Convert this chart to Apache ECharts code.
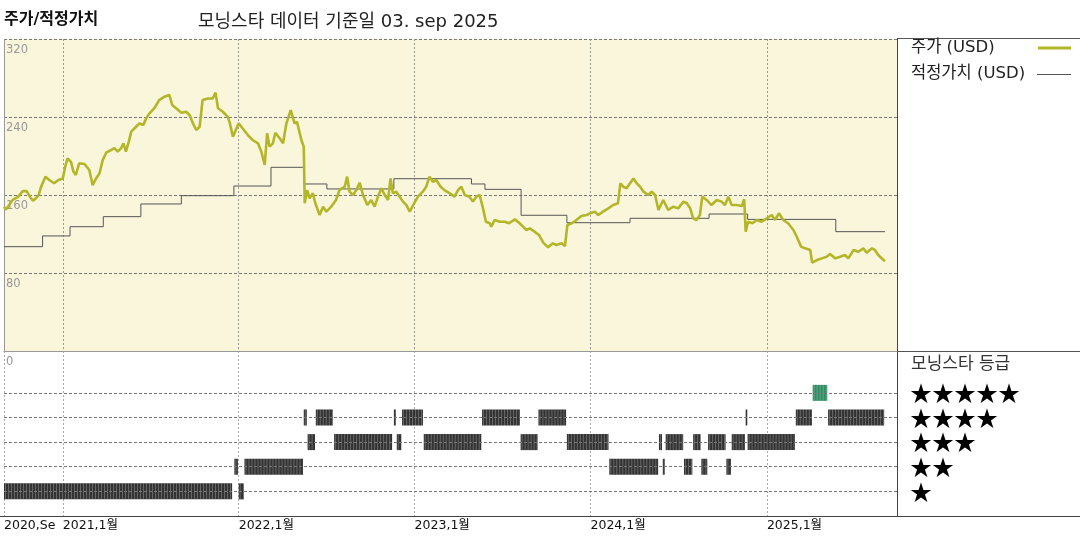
<!DOCTYPE html>
<html><head><meta charset="utf-8">
<script src="https://cdn.jsdelivr.net/npm/echarts@6/dist/echarts.min.js"></script>
<style>html,body{margin:0;padding:0;background:#fff}#c{width:1080px;height:540px}</style>
</head><body><div id="c"></div>
<script>
const priceDates = ['2020-09-01','2020-09-05','2020-09-19','2020-09-30','2020-10-10','2020-10-18','2020-10-25','2020-10-31','2020-11-06','2020-11-12','2020-11-17','2020-11-26','2020-12-04','2020-12-14','2020-12-23',
'2021-01-01','2021-01-06','2021-01-11','2021-01-18','2021-01-23','2021-01-28','2021-02-04','2021-02-15','2021-02-19','2021-02-25','2021-03-04','2021-03-11','2021-03-18','2021-03-25','2021-04-01','2021-04-11','2021-04-18','2021-04-25','2021-05-02','2021-05-07','2021-05-12','2021-05-18','2021-05-23','2021-06-02','2021-06-09','2021-06-17','2021-06-23','2021-06-30','2021-07-10','2021-07-20','2021-07-31','2021-08-10','2021-08-16','2021-08-24','2021-09-04','2021-09-14','2021-09-21','2021-09-28','2021-10-05','2021-10-12','2021-10-18','2021-10-29','2021-11-08','2021-11-14','2021-11-19','2021-11-29','2021-12-09','2021-12-13','2021-12-20',
'2022-01-01','2022-01-09','2022-01-20','2022-01-30','2022-02-10','2022-02-17','2022-02-24','2022-03-01','2022-03-06','2022-03-13','2022-03-18','2022-03-27','2022-04-03','2022-04-10','2022-04-19','2022-04-27','2022-05-02','2022-05-11','2022-05-16','2022-05-18','2022-05-23','2022-05-28','2022-06-04','2022-06-09','2022-06-18','2022-06-25','2022-07-02','2022-07-12','2022-07-22','2022-07-29','2022-08-09','2022-08-14','2022-08-19','2022-08-26','2022-09-02','2022-09-09','2022-09-16','2022-09-25','2022-10-03','2022-10-10','2022-10-17','2022-10-24','2022-10-31','2022-11-07','2022-11-12','2022-11-17','2022-11-24','2022-12-01','2022-12-08','2022-12-15','2022-12-22','2022-12-29',
'2023-01-08','2023-01-18','2023-01-25','2023-02-01','2023-02-08','2023-02-15','2023-02-24','2023-03-04','2023-03-15','2023-03-25','2023-04-01','2023-04-08','2023-04-15','2023-04-25','2023-05-02','2023-05-09','2023-05-16','2023-05-23','2023-05-29','2023-06-06','2023-06-09','2023-06-16','2023-06-27','2023-07-07','2023-07-16','2023-07-28','2023-08-07','2023-08-14','2023-08-21','2023-08-28','2023-09-07','2023-09-16','2023-09-25','2023-10-05','2023-10-15','2023-10-22','2023-11-02','2023-11-09','2023-11-14','2023-11-23','2023-12-03','2023-12-13','2023-12-24','2023-12-31',
'2024-01-10','2024-01-17','2024-01-27','2024-02-07','2024-02-17','2024-02-27','2024-03-03','2024-03-09','2024-03-16','2024-03-23','2024-03-30','2024-04-06','2024-04-13','2024-04-20','2024-04-30','2024-05-07','2024-05-14','2024-05-21','2024-05-31','2024-06-10','2024-06-21','2024-07-01','2024-07-12','2024-07-19','2024-07-26','2024-08-01','2024-08-08','2024-08-15','2024-08-20','2024-08-29','2024-09-08','2024-09-19','2024-09-29','2024-10-06','2024-10-13','2024-10-20','2024-10-30','2024-11-10','2024-11-15','2024-11-18','2024-11-23','2024-12-02','2024-12-11','2024-12-21',
'2025-01-01','2025-01-11','2025-01-18','2025-01-26','2025-02-04','2025-02-14','2025-02-25','2025-03-04','2025-03-13','2025-03-21','2025-04-01','2025-04-05','2025-04-15','2025-04-25','2025-05-05','2025-05-12','2025-05-23','2025-06-02','2025-06-12','2025-06-19','2025-06-30','2025-07-10','2025-07-20','2025-07-27','2025-08-07','2025-08-13','2025-08-20','2025-08-31','2025-09-03'];
const priceValues = [148,145,155,158,164,164,158,154,156.6,160,168.5,178.8,175.4,172,175.4,
177,189,197.6,194,184,180.5,192.5,191.8,190.8,185.6,170,177,182,196,203.4,206,208,204.4,208,213,204.4,214.7,225,230,233.5,231.8,238.6,243.8,249,257.4,260.8,262.6,252.3,249,244.4,245.4,242,233.5,226.7,230,257.4,259,259,265,249,245.4,240.3,235,219.8,
233.5,228.4,221.5,216.4,213,204.4,190.8,223.3,209.6,213,223.9,218.2,213,233.5,247,233.5,235,216.4,209.6,151.5,165,156.6,161.7,151.5,139.5,148,142.9,148,154.9,165,168.5,178.8,163.4,160,165,172.6,160,149.7,154.9,148,158.3,166.9,160,154.9,177,161.7,163.4,158.3,153.2,149.7,142.9,149.7,
158.3,163.4,168.5,178.8,173.6,175.4,168.5,165,161.7,158.3,165,168.5,160,158.3,153.2,158.3,160,146.3,132.6,131,127.5,134.4,132.6,132.6,131,135,131,127.5,124.1,125.8,122.4,119,111.1,106.3,110.4,108.7,110.4,107.7,129.2,131,134.4,138.5,139.5,141.2,
142.9,139.5,142.9,146.3,149.7,151.5,172,168.5,166.9,172,177,172,168.5,163.4,160,163.4,160,144.6,154.9,144.6,148,146.3,153.2,151.5,146.3,136.1,134.4,139.5,158.3,154.9,149.7,154.9,153.2,149.7,158.3,149.7,149.7,148.7,155.6,122.4,132.6,131,134.4,132.6,
136.1,139.5,134.4,141.2,134.4,131,124.1,117.2,107,105.3,103.6,90.6,93.3,95,96.7,99.5,95,96.7,98.5,95,103.6,101.8,105.3,100.8,105.3,103.6,98.5,93.3,92];

const fairDates = ['2020-09-01','2020-11-20','2021-01-16','2021-03-26','2021-06-12','2021-09-04','2021-12-22','2022-03-09','2022-05-16','2022-07-03','2022-11-19','2023-04-29','2023-05-27','2023-08-10','2023-11-13','2024-03-23','2024-09-03','2024-11-22','2025-05-24','2025-09-03'];
const fairValues = [107,118,127.5,137.8,150.8,159.3,169.2,188.4,171.3,166.2,176.7,171.3,165.8,139.2,131.6,136.1,140.5,135,122.4,122.4];

const ratingStart = ['2020-09-01','2021-12-23','2022-01-01','2022-01-13','2022-05-16','2022-05-24','2022-06-10','2022-07-18','2022-11-19','2022-11-25','2022-12-06','2023-01-20','2023-05-21','2023-08-09','2023-09-15','2023-11-13','2024-02-09','2024-05-22','2024-05-30','2024-06-05','2024-07-13','2024-08-01','2024-08-18','2024-09-01','2024-10-09','2024-10-20','2024-11-18','2024-11-22','2025-03-02','2025-04-06','2025-05-08'];
const ratingEnd   = ['2021-12-20','2022-01-01','2022-01-13','2022-05-16','2022-05-24','2022-06-10','2022-07-17','2022-11-17','2022-11-25','2022-12-06','2023-01-20','2023-05-21','2023-08-09','2023-09-15','2023-11-13','2024-02-09','2024-05-22','2024-05-30','2024-06-05','2024-07-13','2024-08-01','2024-08-18','2024-09-01','2024-10-09','2024-10-20','2024-11-18','2024-11-22','2025-03-02','2025-04-06','2025-05-08','2025-09-03'];
const ratingStars = [1,2,1,2,4,3,4,3,4,3,4,3,4,3,4,3,2,3,2,3,2,3,2,3,2,3,4,3,4,5,4];

const yTicks = [0, 80, 160, 240, 320];
const xTickDates = ['2020-09-01','2021-01-01','2022-01-01','2023-01-01','2024-01-01','2025-01-01'];
const ratingRows = [1, 2, 3, 4, 5];
const legendNames = ['주가 (USD)', '적정가치 (USD)'];

const FONT = '"DejaVu Sans", "Noto Sans CJK KR", sans-serif';
const PRICE_COLOR = '#b3b628', FAIR_COLOR = '#555555';
const t = s => { const p = s.split('-').map(Number); return new Date(p[0], p[1] - 1, p[2]).getTime(); };
const xMin = t('2020-09-01'), xMax = t('2025-09-28');
const xTicks = xTickDates.map(t);

const chart = echarts.init(document.getElementById('c'), null, {renderer: 'canvas'});

const xLabelFmt = v => {
  const d = new Date(v);
  if (d.getFullYear() === 2020) return '2020,Sep';
  return d.getFullYear() + ',1월';
};

chart.setOption({
  animation: false,
  textStyle: {fontFamily: FONT},
  title: [
    {text: '주가/적정가치', left: -1, top: 7, textStyle: {fontSize: 16, fontWeight: 'bold', color: '#111', fontFamily: FONT}},
    {text: '모닝스타 데이터 기준일 03. sep 2025', left: 193, top: 8, textStyle: {fontSize: 18, fontWeight: 'normal', color: '#222', fontFamily: FONT}},
    {text: '모닝스타 등급', left: 906, top: 351, textStyle: {fontSize: 17, fontWeight: 'normal', color: '#333', fontFamily: FONT}}
  ],
  grid: [
    {left: 4, top: 39, width: 893, height: 312, show: true, backgroundColor: '#faf6dc', borderWidth: 0},
    {left: 4, top: 351, width: 893, height: 165, show: false}
  ],
  xAxis: [
    {type: 'value', gridIndex: 0, min: xMin, max: xMax,
     axisLine: {show: true, lineStyle: {color: '#999', width: 1}},
     axisTick: {show: false, customValues: xTicks},
     axisLabel: {show: false, customValues: xTicks},
     splitLine: {show: true, lineStyle: {color: '#999', type: [2, 2]}}},
    {type: 'value', gridIndex: 1, min: xMin, max: xMax,
     axisLine: {show: true, lineStyle: {color: '#444', width: 1}},
     axisTick: {show: false, customValues: xTicks},
     axisLabel: {show: true, customValues: xTicks, formatter: xLabelFmt, align: 'left', margin: 3,
                 width: 59, overflow: 'truncate', ellipsis: '',
                 fontSize: 12.5, color: '#111', fontFamily: FONT, showMinLabel: true, showMaxLabel: true, hideOverlap: false},
     splitLine: {show: true, lineStyle: {color: '#aaa', type: [2, 2]}}}
  ],
  yAxis: [
    {type: 'value', gridIndex: 0, min: 0, max: 320, interval: 80,
     axisLine: {show: true, lineStyle: {color: '#999', type: [2, 2]}},
     axisTick: {show: false},
     axisLabel: {inside: true, verticalAlign: 'top', margin: 2, padding: [5, 0, 0, 0], fontSize: 11.5, color: '#999', fontFamily: FONT,
                 formatter: v => String(v)},
     splitLine: {show: true, lineStyle: {color: '#777', type: [3, 2]}}},
    {type: 'value', gridIndex: 1, position: 'right', min: 0, max: 6.7, interval: 1,
     axisLine: {show: false}, axisTick: {show: false}, splitLine: {show: false},
     axisLabel: {margin: 13, align: 'left', fontSize: 22, color: '#000', fontFamily: '"Noto Sans CJK KR", sans-serif',
                 formatter: v => (Number.isInteger(v) && v >= 1 && v <= 5) ? '★'.repeat(v) : ''}}
  ],
  graphic: [
    {type: 'line', silent: true, shape: {x1: 897, y1: 38.5, x2: 1080, y2: 38.5}, style: {stroke: '#555', lineWidth: 1}},
    {type: 'line', silent: true, shape: {x1: 897.5, y1: 38, x2: 897.5, y2: 516}, style: {stroke: '#444', lineWidth: 1}},
    {type: 'line', silent: true, shape: {x1: 897, y1: 351.5, x2: 1080, y2: 351.5}, style: {stroke: '#555', lineWidth: 1}},
    {type: 'line', silent: true, shape: {x1: 0, y1: 516.5, x2: 1080, y2: 516.5}, style: {stroke: '#444', lineWidth: 1}},
    {type: 'text', silent: true, style: {text: legendNames[0], x: 911, y: 48, verticalAlign: 'middle', font: '16.5px ' + FONT, fill: '#222'}},
    {type: 'line', silent: true, shape: {x1: 1038, y1: 48, x2: 1071, y2: 48}, style: {stroke: PRICE_COLOR, lineWidth: 3}},
    {type: 'text', silent: true, style: {text: legendNames[1], x: 911, y: 74, verticalAlign: 'middle', font: '16.5px ' + FONT, fill: '#222'}},
    {type: 'line', silent: true, shape: {x1: 1037, y1: 74.5, x2: 1071, y2: 74.5}, style: {stroke: FAIR_COLOR, lineWidth: 1}}
  ],
  series: [
    {name: legendNames[1], type: 'line', xAxisIndex: 0, yAxisIndex: 0, step: 'end', symbol: 'none',
     color: FAIR_COLOR, lineStyle: {width: 1, color: FAIR_COLOR},
     data: fairDates.map((d, i) => [t(d), fairValues[i]])},
    {name: legendNames[0], type: 'line', xAxisIndex: 0, yAxisIndex: 0, symbol: 'none',
     color: PRICE_COLOR, lineStyle: {width: 2.6, color: PRICE_COLOR},
     data: priceDates.map((d, i) => [t(d), priceValues[i]])},
    {name: 'rating', type: 'custom', xAxisIndex: 1, yAxisIndex: 1,
     encode: {x: [0, 1], y: 2},
     data: ratingStart.map((s, i) => [t(s), t(ratingEnd[i]), ratingStars[i]]),
     renderItem: (params, api) => {
       const y = api.value(2);
       const p0 = api.coord([api.value(0), y]);
       const p1 = api.coord([api.value(1), y]);
       const h = 16;
       const x0 = p0[0];
       const w = Math.max(1.6, p1[0] - p0[0] - 0.8);
       const fill = y === 5 ? '#2f8c62' : '#333333';
       const children = [{type: 'rect', shape: {x: x0, y: p0[1] - h / 2, width: w, height: h}, style: {fill: fill}}];
       for (let x = x0 + 1.5; x < x0 + w - 0.5; x += 3) {
         children.push({type: 'line', shape: {x1: x, y1: p0[1] - h / 2, x2: x, y2: p0[1] + h / 2},
                        style: {stroke: 'rgba(255,255,255,0.25)', lineWidth: 1}});
       }
       return {type: 'group', children: children};
     },
     markLine: {silent: true, symbol: 'none', label: {show: false},
                lineStyle: {color: '#777', type: [3, 2], width: 1},
                data: ratingRows.map(r => ({yAxis: r}))}
    }
  ]
});
</script>
</body></html>
